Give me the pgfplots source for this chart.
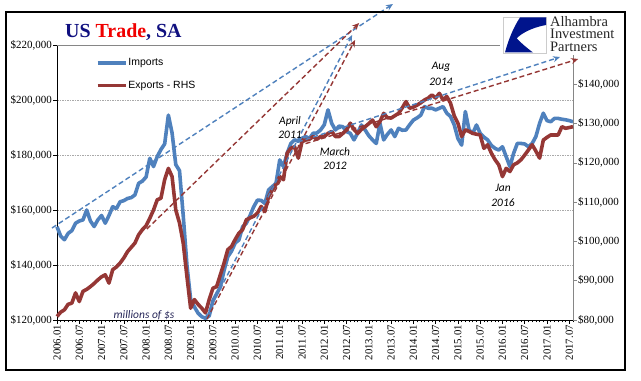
\documentclass[border=0pt]{standalone}
\usepackage{pgfplots}
\pgfplotsset{compat=1.18}
\usepackage{pgfplotstable}
\usepackage{fontspec}
\setmainfont{Liberation Serif}
\newfontfamily\sansf{Liberation Sans}
\newfontfamily\calib{Carlito}
\usetikzlibrary{arrows.meta}
\definecolor{impblue}{RGB}{79,129,189}
\definecolor{expred}{RGB}{149,55,53}
\definecolor{titlenavy}{RGB}{16,16,128}
\definecolor{titlered}{RGB}{240,0,0}
\definecolor{axgray}{RGB}{134,134,134}
\definecolor{gridgray}{RGB}{170,170,170}
\definecolor{logonavy}{RGB}{0,20,140}
\definecolor{mtext}{RGB}{40,40,90}

\pgfplotstableread{
v
153900
150500
149200
151500
152500
155200
156000
156400
160000
156000
154000
156400
158000
155200
158000
161200
160500
163000
163400
164200
164500
165500
169700
170500
172000
178800
175800
179400
182000
184000
194500
188000
176500
174300
158000
140000
127500
124800
122500
121200
120600
121500
127000
129500
132000
138000
143000
145000
148000
149100
153900
155200
158000
161200
163600
163500
162400
167300
168500
169700
178200
175800
180600
184200
185500
185000
186100
186700
186000
187900
188000
189100
191000
196400
191500
189100
190500
190300
188500
187900
185500
188000
190900
189100
187000
185500
184200
191500
185500
187500
189100
186700
189700
189000
189100
191000
192700
193500
194500
197600
197000
197000
196400
197000
197600
195200
194000
191000
186000
183600
195800
189100
187900
190900
187900
186500
185500
183500
182400
181800
183000
179400
175800
180600
184200
184200
184000
183000
184200
186700
191500
195200
192500
192100
193300
193300
193000
192800
192500
192100
}\imports

\pgfplotstableread{
v
80900
82000
82600
84000
84300
86900
84700
87300
87800
88500
89300
90200
91000
91500
89400
92800
93500
94500
95800
97400
98500
99600
101700
103000
104000
105900
108000
110600
111000
115700
118600
116500
108000
104700
99600
91100
83000
85200
84000
83000
81800
85200
88100
88500
91500
94500
97900
98700
100500
102100
103000
105500
106000
106400
107200
108900
107600
111400
113100
114500
116500
115700
122500
123700
124100
121200
125400
125800
126000
126700
126000
126700
126700
127500
128000
126700
126700
127500
128400
130100
128500
127500
128500
129200
130000
130900
129200
130500
132600
131500
131400
132000
132600
134000
135600
133900
134200
134700
135300
136000
136500
137300
136500
137700
136000
136900
135200
132000
130100
126700
128400
128000
127500
127300
127100
123700
124600
122500
120800
119500
116500
118600
117800
119500
120000
120800
122000
123300
124600
123000
121200
125800
126500
127100
127100
127100
129200
128800
129000
129200
}\exports

\begin{document}
\begin{tikzpicture}
\useasboundingbox (0,0) rectangle (641bp,381bp);
\fill[white] (0,0) rectangle (641bp,381bp);

% ---------- left axis: imports ----------
\begin{axis}[
  at={(57bp,61bp)}, anchor=south west,
  scale only axis, width=516bp, height=275bp,
  xmin=0, xmax=139, ymin=120000, ymax=220000,
  axis x line*=bottom, axis y line*=left,
  axis line style={black, line width=0.8bp},
  tick align=outside,
  major tick length=4bp, minor tick length=2.5bp,
  tick style={black, line width=0.6bp},
  xtick={0,6,...,138},
  xticklabels={2006.01,2006.07,2007.01,2007.07,2008.01,2008.07,2009.01,2009.07,2010.01,2010.07,2011.01,2011.07,2012.01,2012.07,2013.01,2013.07,2014.01,2014.07,2015.01,2015.07,2016.01,2016.07,2017.01,2017.07},
  minor xtick={0,1,...,139},
  xticklabel style={rotate=90, anchor=east, font=\fontsize{10.8}{12}\selectfont, inner sep=1bp},
  ytick={120000,140000,...,220000},
  scaled y ticks=false,
  /pgf/number format/assume math mode=true,
  yticklabel={\$\pgfmathprintnumber[fixed,1000 sep={,}]{\tick}},
  yticklabel style={font=\fontsize{11}{13}\selectfont, inner sep=1bp},
  ymajorgrids,
  grid style={gridgray, line width=0.6bp, dash pattern=on 1.5bp off 1bp},
  legend style={at={(axis description cs:0.075,0.955)}, anchor=north west,
    draw=none, fill=none, font=\sansf\fontsize{10.5}{12}\selectfont,
    row sep=12bp, inner sep=0pt, nodes={inner sep=1bp}},
  legend cell align=left,
  legend image code/.code={\draw[#1] (0bp,0bp) -- (28bp,0bp);},
  clip=false,
]
\draw[axgray, line width=0.8bp] (rel axis cs:0,1) -- (rel axis cs:1,1);
\addplot[impblue, line width=3.6bp, line join=round] table[x expr=\coordindex, y=v] {\imports};
\addlegendentry{Imports}
\addlegendimage{expred, line width=3.6bp}
\addlegendentry{Exports - RHS}
\end{axis}

% ---------- right axis: exports ----------
\begin{axis}[
  at={(57bp,61bp)}, anchor=south west,
  scale only axis, width=516bp, height=275bp,
  xmin=0, xmax=139, ymin=80000, ymax=150000,
  axis x line=none, axis y line*=right,
  axis line style={axgray, line width=0.8bp},
  tick align=outside, major tick length=4bp,
  ytick style={axgray, line width=0.6bp},
  ytick={80000,90000,...,140000},
  scaled y ticks=false,
  /pgf/number format/assume math mode=true,
  yticklabel={\$\pgfmathprintnumber[fixed,1000 sep={,}]{\tick}},
  yticklabel style={font=\fontsize{11}{13}\selectfont, inner sep=1bp},
  clip=false,
]
\addplot[expred, line width=3.6bp, line join=round] table[x expr=\coordindex, y=v] {\exports};
% dashed trend arrows
\draw[impblue, line width=1.4bp, dash pattern=on 5bp off 3bp, -{Stealth[open,length=7bp,width=6bp]}] (axis cs:-1.35,103418) -- (axis cs:90.5,160436);
\draw[expred, line width=1.4bp, dash pattern=on 5bp off 3bp, -{Stealth[open,length=7bp,width=6bp]}] (axis cs:24.2,103164) -- (axis cs:81.4,155600);
\draw[impblue, line width=1.4bp, dash pattern=on 5bp off 3bp, -{Stealth[open,length=7bp,width=6bp]}] (axis cs:39.9,80509) -- (axis cs:79.5,152545);
\draw[expred, line width=1.4bp, dash pattern=on 5bp off 3bp, -{Stealth[open,length=7bp,width=6bp]}] (axis cs:40.4,80255) -- (axis cs:80.3,151273);
\draw[impblue, line width=1.4bp, dash pattern=on 5bp off 3bp, -{Stealth[open,length=7bp,width=6bp]}] (axis cs:64.9,125309) -- (axis cs:135.5,146945);
\draw[expred, line width=1.4bp, dash pattern=on 5bp off 3bp, -{Stealth[open,length=7bp,width=6bp]}] (axis cs:64.9,124291) -- (axis cs:140.4,146436);
\end{axis}

\begin{scope}[x=1bp, y=1bp]
% title
\node[anchor=base west, inner sep=0pt, font=\fontsize{20}{22}\selectfont\bfseries] at (65,344)
  {\textcolor{titlenavy}{US }\textcolor{titlered}{Trade}\textcolor{titlenavy}{, SA}};
% annotations
\begin{scope}[every node/.style={font=\calib\itshape\fontsize{11.5}{13}\selectfont, inner sep=0pt}]
\node at (290,260) {April};
\node at (290,246) {2011};
\node at (335,229) {March};
\node at (335,215) {2012};
\node at (441,314) {Aug};
\node at (441,299) {2014};
\node at (503,193) {Jan};
\node at (503,178) {2016};
\node[text=mtext] at (144,66) {millions of \$s};
\end{scope}
% logo
\fill[white] (500,326) rectangle (624,368);
\draw[gray!40, line width=0.8bp, fill=white] (503,328) rectangle (546,364);
\fill[logonavy] (520,363.5) -- (546,363.5) -- (546,356)
  .. controls (530,353) and (521,347) .. (516.7,342.7)
  .. controls (521,338) and (527,333) .. (533,328.5)
  -- (505,328.5) .. controls (508,340) and (513,353) .. (520,363.5) -- cycle;
\node[anchor=north west, inner sep=0pt, align=left, text=black!85,
  font=\fontsize{14.5}{12.5}\selectfont] at (550,365)
  {Alhambra\\Investment\\Partners};
% frame
\draw[black, line width=1.2bp] (6,11) rectangle (625,369);
\end{scope}
\end{tikzpicture}
\end{document}
